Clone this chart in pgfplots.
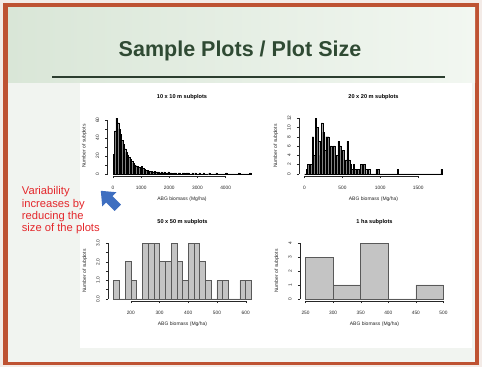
\documentclass[border=0pt]{standalone}
\usepackage{pgfplots}
\pgfplotsset{compat=1.18}
\usepackage{fontspec}
\setmainfont{Liberation Sans}
\definecolor{borderc}{RGB}{190,82,50}
\definecolor{outerbg}{RGB}{243,235,231}
\definecolor{headl}{RGB}{217,230,215}
\definecolor{headr}{RGB}{242,247,241}
\definecolor{bodybg}{RGB}{241,244,240}
\definecolor{titlec}{RGB}{47,74,51}
\definecolor{rulec}{RGB}{44,62,47}
\definecolor{redc}{RGB}{228,40,44}
\definecolor{arrowc}{RGB}{62,110,192}
\definecolor{barlight}{RGB}{196,196,196}
\definecolor{bardark}{RGB}{130,130,130}

\pgfplotsset{rhist/.style={
  scale only axis, width=149pt, height=60pt,
  axis x line*=bottom, axis y line*=left,
  axis line style={draw=none},
  tick pos=left, tick align=outside,
  major tick length=2.2pt,
  every tick/.style={black!85, line width=0.4pt},
  ticklabel style={font=\fontsize{4.8}{5}\selectfont, text=black!85},
  /pgf/number format/assume math mode=true,
  yticklabel style={rotate=90, anchor=south},
  yticklabel shift=2.5pt,
  xticklabel shift=4pt,
  title style={at={(axis description cs:0.5,1.217)}, anchor=center, font=\bfseries\fontsize{5.6}{6}\selectfont},
  xlabel style={at={(axis description cs:0.5,-0.39)}, anchor=center, font=\fontsize{5}{6}\selectfont, text=black!85},
  ylabel style={at={(axis description cs:-0.155,0.5)}, anchor=center, font=\fontsize{5}{6}\selectfont, text=black!85},
  xlabel={ABG biomass (Mg/ha)}, ylabel={Number of subplots},
  clip=false,
}}

\begin{document}
\begin{tikzpicture}[x=1pt,y=1pt]
\useasboundingbox (0,0) rectangle (482,367);
% slide background
\fill[outerbg] (0,0) rectangle (482,367);
\fill[borderc] (3,2) rectangle (479,364);
\fill[bodybg] (8,5) rectangle (475,359);
\shade[left color=headl, right color=headr] (8,284) rectangle (475,359);
\fill[white] (80,19) rectangle (472,284);
% title and rule
\node[anchor=base, text=titlec, font=\bfseries\fontsize{21.5}{24}\selectfont] at (240,310.5) {Sample Plots / Plot Size};
\draw[rulec, line width=1.4pt] (52,290) -- (445,290);
% red note
\begin{scope}[every node/.style={anchor=base west, text=redc, font=\fontsize{11.2}{12}\selectfont, inner sep=0pt}]
\node at (21.7,172) {Variability};
\node at (21.7,159.7) {increases by};
\node at (21.7,147.2) {reducing the};
\node at (21.7,135) {size of the plots};
\end{scope}
% blue arrow
\fill[arrowc, shift={(110,167)}, rotate=135] (-11,-4.5) -- (1,-4.5) -- (1,-10) -- (13,0) -- (1,10) -- (1,4.5) -- (-11,4.5) -- cycle;

% 10 x 10
\begin{axis}[rhist, at={(107.5pt,191pt)}, anchor=south west,
  title={10 x 10 m subplots},
  xmin=-196, xmax=5096, ymin=-2.48, ymax=64.48,
  xtick={0,1000,2000,3000,4000}, xticklabels={0,1000,2000,3000,4000},
  ytick={0,10,20,30,40,50,60}, yticklabels={0,,20,,40,,60}]
\draw[black!85, line width=0.4pt] (axis cs:0,-2.48) -- (axis cs:4000,-2.48);
\draw[black!85, line width=0.4pt] (axis cs:-196,0) -- (axis cs:-196,60);
\addplot[ybar interval, fill=bardark, draw=black, line width=0.3pt] table {
x y
0 22
50 48
100 62
150 57
200 50
250 44
300 37
350 33
400 28
450 24
500 21
550 18
600 16
650 14
700 12
750 10
800 9
850 8
900 7
950 6
1000 8
1050 6
1100 5
1150 4
1200 4
1250 3
1300 3
1350 3
1400 2
1450 3
1500 2
1550 2
1600 2
1650 1
1700 2
1750 1
1800 2
1850 1
1900 1
1950 2
2000 1
2050 1
2100 0
2150 1
2200 1
2250 0
2300 1
2350 1
2400 0
2450 1
2500 1
2550 0
2600 1
2650 1
2700 0
2750 0
2800 1
2850 0
2900 1
2950 0
3000 0
3050 1
3100 0
3150 0
3200 1
3250 0
3300 0
3350 0
3400 1
3450 0
3500 0
3550 0
3600 0
3650 1
3700 0
3750 0
3800 0
3850 0
3900 0
3950 0
4000 1
4050 0
4100 0
4150 0
4200 0
4250 0
4300 0
4350 0
4400 0
4450 1
4500 0
4550 0
4600 0
4650 0
4700 0
4750 0
4800 0
4850 1
4900 0
};
\end{axis}

% 20 x 20
\begin{axis}[rhist, at={(299pt,191pt)}, anchor=south west,
  title={20 x 20 m subplots},
  xmin=-72.8, xmax=1892.8, ymin=-0.48, ymax=12.48,
  xtick={0,500,1000,1500}, xticklabels={0,500,1000,1500},
  ytick={0,2,4,6,8,10,12}, yticklabels={0,2,4,6,8,10,12}]
\draw[black!85, line width=0.4pt] (axis cs:0,-0.48) -- (axis cs:1500,-0.48);
\draw[black!85, line width=0.4pt] (axis cs:-72.8,0) -- (axis cs:-72.8,12);
\addplot[ybar interval, fill=bardark, draw=black, line width=0.3pt] table {
x y
0 0
20 1
40 2
60 2
80 2
100 8
120 4
140 12
160 10
180 7
200 4
220 11
240 9
260 5
280 8
300 8
320 5
340 6
360 5
380 6
400 3
420 4
440 7
460 6
480 2
500 5
520 2
540 3
560 7
580 3
600 2
620 1
640 2
660 1
680 1
700 1
720 0
740 2
760 2
780 2
800 1
820 0
840 1
860 0
880 0
900 0
920 0
940 1
960 1
980 0
1000 0
1020 0
1040 0
1060 0
1080 0
1100 0
1120 0
1140 0
1160 0
1180 0
1200 0
1220 1
1240 0
1260 0
1280 0
1300 0
1320 0
1340 0
1360 0
1380 0
1400 0
1420 0
1440 0
1460 0
1480 0
1500 0
1520 0
1540 0
1560 0
1580 0
1600 0
1620 0
1640 0
1660 0
1680 0
1700 0
1720 0
1740 0
1760 0
1780 0
1800 1
1820 0
};
\end{axis}

% 50 x 50
\begin{axis}[rhist, at={(108pt,66pt)}, anchor=south west,
  title={50 x 50 m subplots},
  xmin=120.8, xmax=639.2, ymin=-0.12, ymax=3.12,
  xtick={200,300,400,500,600}, xticklabels={200,300,400,500,600},
  ytick={0,0.5,1,1.5,2,2.5,3}, yticklabels={0.0,,1.0,,2.0,,3.0}]
\draw[black!85, line width=0.4pt] (axis cs:200,-0.12) -- (axis cs:600,-0.12);
\draw[black!85, line width=0.4pt] (axis cs:120.8,0) -- (axis cs:120.8,3);
\addplot[ybar interval, fill=barlight, draw=black!65, line width=0.5pt] table {
x y
140 1
160 0
180 2
200 1
220 0
240 3
260 3
280 3
300 2
320 2
340 3
360 2
380 1
400 3
420 3
440 2
460 1
480 0
500 1
520 1
540 0
560 0
580 1
600 1
620 0
};
\end{axis}

% 1 ha
\begin{axis}[rhist, at={(300pt,66pt)}, anchor=south west,
  title={1 ha subplots},
  xmin=240, xmax=510, ymin=-0.16, ymax=4.16,
  xtick={250,300,350,400,450,500}, xticklabels={250,300,350,400,450,500},
  ytick={0,1,2,3,4}, yticklabels={0,1,2,3,4}]
\draw[black!85, line width=0.4pt] (axis cs:250,-0.16) -- (axis cs:500,-0.16);
\draw[black!85, line width=0.4pt] (axis cs:240,0) -- (axis cs:240,4);
\addplot[ybar interval, fill=barlight, draw=black!65, line width=0.5pt] table {
x y
250 3
300 1
350 4
400 0
450 1
500 0
};
\end{axis}
\end{tikzpicture}
\end{document}
